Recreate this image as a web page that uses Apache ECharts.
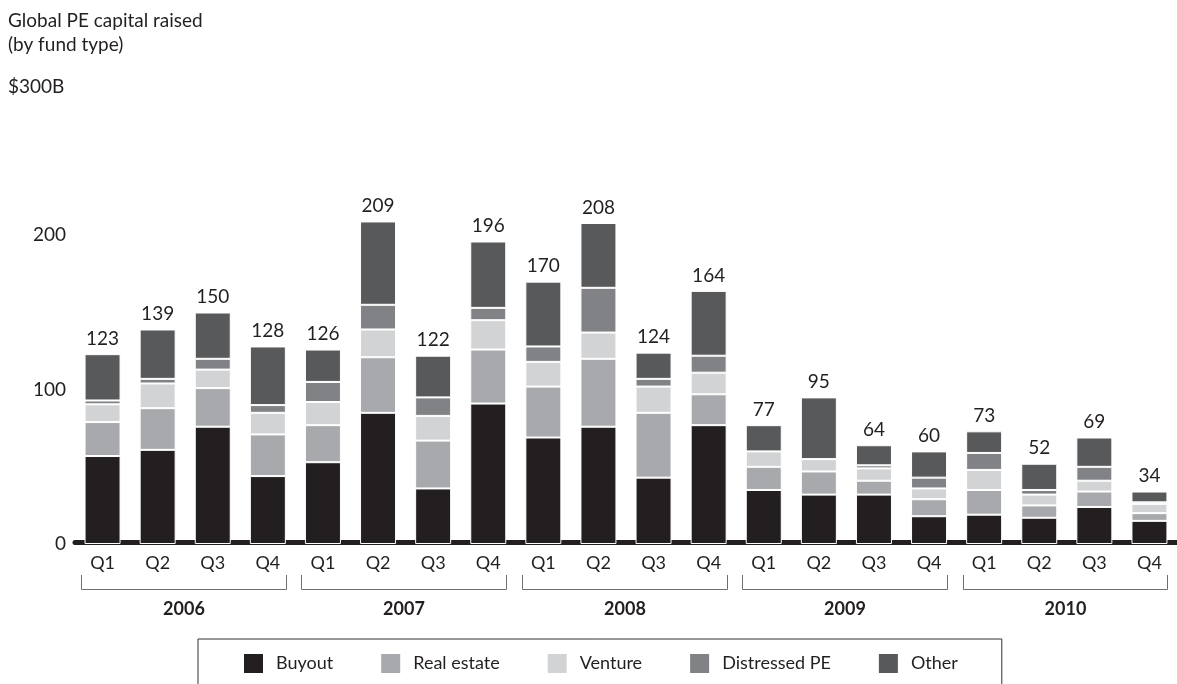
<!DOCTYPE html>
<html>
<head>
<meta charset="utf-8">
<script src="https://cdn.jsdelivr.net/npm/echarts@6/dist/echarts.min.js"></script>
<style>
html,body{margin:0;padding:0;background:#fff;}
#main{width:1177px;height:684px;}
</style>
</head>
<body>
<div id="main"></div>
<script>
// ---- data ----
var years = ['2006', '2007', '2008', '2009', '2010'];
var quarters = ['Q1', 'Q2', 'Q3', 'Q4'];
var seriesNames = ['Buyout', 'Real estate', 'Venture', 'Distressed PE', 'Other'];
var buyout     = [57, 61, 76, 44, 53, 85, 36, 91, 69, 76, 43, 77, 35, 32, 32, 18, 19, 17, 24, 15];
var realEstate = [22, 27, 25, 27, 24, 36, 31, 35, 33, 44, 42, 20, 15, 15, 9, 11, 16, 8, 10, 5];
var venture    = [11.5, 16, 12, 14, 15, 18, 16, 19, 16, 17, 17, 14, 10, 8, 8, 7, 13, 7, 7, 6];
var distressed = [2.5, 3, 7, 5, 13, 16, 12, 8, 10, 29, 5, 11, 0, 0, 2, 7, 11, 3, 9, 1];
var other      = [30, 32, 30, 38, 21, 54, 27, 43, 42, 42, 17, 42, 17, 40, 13, 17, 14, 17, 19, 7];
var totals     = [123, 139, 150, 128, 126, 209, 122, 196, 170, 208, 124, 164, 77, 95, 64, 60, 73, 52, 69, 34];
var yTicks = [0, 100, 200, 300];

var colors = ['#231f20', '#a7a9ac', '#d1d3d4', '#808285', '#58595b'];
var FONT = 'Lato, "Open Sans", sans-serif';
var TXT = '#231f20';

var categories = [];
years.forEach(function (y) { quarters.forEach(function (q) { categories.push(y + ' ' + q); }); });
var seriesData = [buyout, realEstate, venture, distressed, other];

var chart = echarts.init(document.getElementById('main'), null, {renderer: 'canvas'});

var series = seriesNames.map(function (name, i) {
  var s = {
    name: name,
    type: 'bar',
    stack: 'total',
    barWidth: 36,
    data: seriesData[i],
    itemStyle: {color: colors[i], borderColor: '#ffffff', borderWidth: 1},
    emphasis: {disabled: true}
  };
  if (i === seriesNames.length - 1) {
    s.label = {
      show: true,
      position: 'top',
      distance: 6,
      fontFamily: FONT,
      fontSize: 19,
      color: TXT,
      formatter: function (p) { return totals[p.dataIndex]; }
    };
  }
  return s;
});

var option = {
  animation: false,
  textStyle: {fontFamily: FONT},
  title: [
    {text: 'Global PE capital raised\n(by fund type)', left: 3, top: 4,
     textStyle: {fontFamily: FONT, fontSize: 19, fontWeight: 'normal', color: TXT, lineHeight: 24}},
    {text: '$' + yTicks[3] + 'B', left: 3, top: 70,
     textStyle: {fontFamily: FONT, fontSize: 19, fontWeight: 'normal', color: TXT, lineHeight: 24}}
  ],
  legend: {
    data: seriesNames,
    left: 198,
    top: 639,
    padding: [13, 44, 14, 44],
    borderColor: '#333',
    borderWidth: 1,
    itemWidth: 21,
    itemHeight: 21,
    itemGap: 46,
    icon: 'rect',
    selectedMode: false,
    textStyle: {fontFamily: FONT, fontSize: 18, color: TXT, padding: [0, 0, 0, 7]}
  },
  grid: {left: 75, top: 81, width: 1110, height: 463, containLabel: false},
  xAxis: {
    type: 'category',
    data: categories,
    offset: -2,
    axisLine: {lineStyle: {color: '#231f20', width: 5}},
    axisTick: {show: false},
    axisLabel: {
      fontFamily: FONT, fontSize: 18, color: TXT, margin: 12,
      formatter: function (v) { return v.split(' ')[1]; }
    }
  },
  yAxis: {
    type: 'value',
    min: 0,
    max: 300,
    interval: 100,
    splitLine: {show: false},
    axisLine: {show: false},
    axisTick: {show: false},
    axisLabel: {
      fontFamily: FONT, fontSize: 19, color: TXT, margin: 9,
      formatter: function (v) { return v === yTicks[3] ? '' : String(v); }
    }
  },
  series: series
};
chart.setOption(option);

// year brackets under the quarter labels
var graphics = [];
years.forEach(function (y, k) {
  var first = chart.convertToPixel({xAxisIndex: 0}, categories[k * 4]);
  var last = chart.convertToPixel({xAxisIndex: 0}, categories[k * 4 + 3]);
  var x1 = Math.round(first - 18 - 3.5) + 0.5;
  var x2 = Math.round(last + 18) + 0.5;
  var yTop = 575, yBot = 589.5;
  graphics.push({
    type: 'polyline',
    shape: {points: [[x1, yTop], [x1, yBot], [x2, yBot], [x2, yTop]]},
    style: {stroke: '#6d6e71', lineWidth: 1, fill: null},
    silent: true
  });
  graphics.push({
    type: 'text',
    x: (x1 + x2) / 2,
    y: 609,
    style: {text: y, fontFamily: FONT, fontSize: 18, fontWeight: 'bold', fill: TXT,
            align: 'center', verticalAlign: 'middle'},
    silent: true
  });
});
chart.setOption({graphic: graphics});
</script>
</body>
</html>
